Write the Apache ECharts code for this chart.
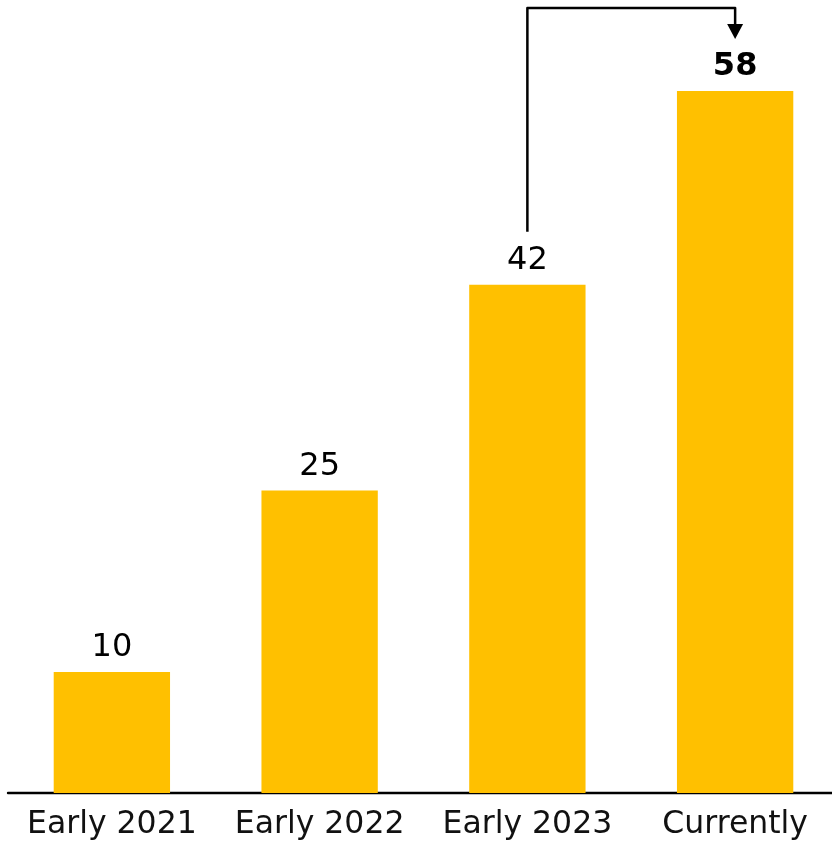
<!DOCTYPE html>
<html>
<head>
<meta charset="utf-8">
<script src="https://cdn.jsdelivr.net/npm/echarts@6/dist/echarts.min.js"></script>
<style>html,body{margin:0;padding:0;background:#fff}#c{width:832px;height:842px}</style>
</head>
<body>
<div id="c"></div>
<script>
const categories = ['Early 2021', 'Early 2022', 'Early 2023', 'Currently'];
const values = [10, 25, 42, 58];
const highlightIndex = 3;
const arrowFrom = 2;
const arrowTo = 3;

const FONT = 'DejaVu Sans';
const chart = echarts.init(document.getElementById('c'), null, {renderer: 'canvas'});
const data = values.map((v, i) => i === highlightIndex
  ? {value: v, label: {fontWeight: 'bold'}}
  : {value: v});

chart.setOption({
  animation: false,
  grid: {left: 8, right: -7, top: 6.3, bottom: 49, containLabel: false, outerBoundsMode: 'none'},
  xAxis: {
    type: 'category',
    data: categories,
    axisLine: {show: true, lineStyle: {color: '#000', width: 2.4}},
    axisTick: {show: false},
    axisLabel: {color: '#111', fontFamily: FONT, fontSize: 31.5, margin: 16, interval: 0}
  },
  yAxis: {
    type: 'value', min: 0, max: 65,
    show: false, splitLine: {show: false}
  },
  series: [{
    type: 'bar',
    data: data,
    barWidth: '56%',
    itemStyle: {color: '#FFC000'},
    label: {show: true, position: 'top', distance: 8, color: '#000', fontFamily: FONT, fontSize: 32}
  }]
});

const p1 = chart.convertToPixel({seriesIndex: 0}, [arrowFrom, values[arrowFrom]]);
const p2 = chart.convertToPixel({seriesIndex: 0}, [arrowTo, values[arrowTo]]);
const topY = 8;
const startY = p1[1] - 53;
const tipY = p2[1] - 52;
const headH = 15, headW = 8;
chart.setOption({
  graphic: [
    {
      type: 'polyline',
      shape: {points: [[p1[0], startY], [p1[0], topY], [p2[0], topY], [p2[0], tipY - headH + 1]]},
      style: {stroke: '#000', lineWidth: 2.5, fill: null, lineJoin: 'round'}
    },
    {
      type: 'polygon',
      shape: {points: [[p2[0] - headW, tipY - headH], [p2[0] + headW, tipY - headH], [p2[0], tipY]]},
      style: {fill: '#000'}
    }
  ]
});
</script>
</body>
</html>
